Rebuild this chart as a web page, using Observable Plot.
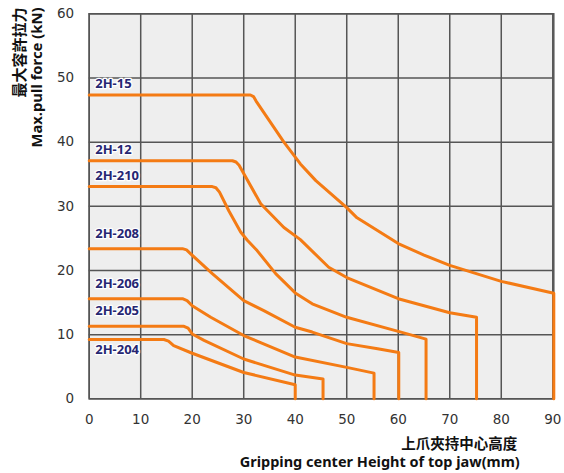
<!DOCTYPE html>
<html>
<head>
<meta charset="utf-8">
<script src="https://cdn.jsdelivr.net/npm/d3@7"></script>
<script src="https://cdn.jsdelivr.net/npm/@observablehq/plot@0.6"></script>
<style>
  html, body { margin: 0; padding: 0; background: #fff; }
</style>
</head>
<body>
<div id="chart"></div>
<script>
// ---- data ----
const seriesNames = ["2H-15", "2H-12", "2H-210", "2H-208", "2H-206", "2H-205", "2H-204"];

const s2H15  = [[0,47.35],[31.3,47.35],[31.9,47.1],[32.4,46.4],[37.8,40],[41,36.6],[44,34],[50,29.8],[52,28.2],[60,24.2],[65,22.4],[70,20.8],[80,18.3],[90.2,16.45],[90.2,0]];
const s2H12  = [[0,37.1],[27.8,37.1],[28.5,36.9],[29.1,36.4],[33.3,30.4],[37.8,26.7],[41,24.8],[46.5,20.5],[50,18.9],[60,15.6],[70,13.4],[75.2,12.7],[75.2,0]];
const s2H210 = [[0,33.07],[23.9,33.07],[24.6,32.9],[25.3,32.2],[27.1,29.3],[29.4,26],[30.7,24.7],[32.6,23.1],[36.2,19.5],[40,16.5],[43.3,14.8],[50,12.7],[60,10.5],[65.4,9.3],[65.4,0]];
const s2H208 = [[0,23.4],[18.1,23.4],[18.9,23.2],[19.7,22.6],[23.9,19.5],[30,15.3],[33.9,13.75],[40,11.15],[43.3,10.4],[50,8.6],[56,7.8],[60.1,7.2],[60.1,0]];
const s2H206 = [[0,15.6],[18.1,15.6],[19,15.3],[20,14.5],[23.6,12.7],[30,9.86],[40,6.5],[50,4.9],[55.3,4.0],[55.3,0]];
const s2H205 = [[0,11.3],[18.4,11.3],[19.2,11.0],[20,10.1],[22.3,9.1],[30,6.2],[40,3.7],[45.4,3.1],[45.4,0]];
const s2H204 = [[0,9.24],[14.5,9.24],[15.4,9.0],[16.4,8.3],[20,7.1],[30,4.1],[40,2.2],[40,0]];

const seriesPoints = [s2H15, s2H12, s2H210, s2H208, s2H206, s2H205, s2H204];

const xTicks = [0, 10, 20, 30, 40, 50, 60, 70, 80, 90];
const yTicks = [0, 10, 20, 30, 40, 50, 60];

const yTitleZh = "最大容許拉力";
const yTitleEn = "Max.pull force (kN)";
const xTitleZh = "上爪夾持中心高度";
const xTitleEn = "Gripping center Height of top jaw(mm)";

// ---- build table ----
const table = [];
seriesNames.forEach((name, i) => {
  seriesPoints[i].forEach(([x, y]) => table.push({series: name, x, y}));
});
const labelRows = seriesNames.map((name, i) => ({series: name, x: 0, y: seriesPoints[i][0][1]}));
const groupA = labelRows.filter(d => ["2H-15", "2H-12", "2H-210"].includes(d.series));
const groupB = labelRows.filter(d => ["2H-208", "2H-206", "2H-205"].includes(d.series));
const groupC = labelRows.filter(d => d.series === "2H-204");

const orange = "#f47b14";
const navy = "#262672";
const gridColor = "#555555";
const labelStyle = {
  x: "x", y: "y", text: "series", textAnchor: "start", dx: 6,
  fill: navy, fontWeight: "bold", fontSize: 13, fontFamily: "Noto Sans",
  stroke: "white", strokeWidth: 2.5
};

const chart = Plot.plot({
  width: 564,
  height: 473,
  marginTop: 13.3,
  marginLeft: 88.7,
  marginRight: 10.7,
  marginBottom: 74.7,
  style: {background: "white", fontFamily: "DejaVu Sans", fontSize: "13.5px"},
  x: {domain: [0, 90.2], label: null},
  y: {domain: [0, 60], label: null},
  marks: [
    Plot.frame({fill: "#eeeeee", stroke: null}),
    Plot.gridX(xTicks, {stroke: gridColor, strokeOpacity: 1, strokeWidth: 1.5}),
    Plot.gridY(yTicks, {stroke: gridColor, strokeOpacity: 1, strokeWidth: 1.5}),
    Plot.frame({stroke: gridColor, strokeWidth: 1.5}),
    Plot.axisX(xTicks, {tickSize: 0, tickPadding: 16, fill: "#333", fontSize: 13.5, fontFamily: "DejaVu Sans", label: null}),
    Plot.axisY(yTicks, {tickSize: 0, tickPadding: 15, fill: "#333", fontSize: 13.5, fontFamily: "DejaVu Sans", label: null}),
    Plot.line(table, {x: "x", y: "y", z: "series", stroke: orange, strokeWidth: 3, strokeLinejoin: "round"}),
    Plot.text(groupA, {...labelStyle, dy: -11}),
    Plot.text(groupB, {...labelStyle, dy: -15}),
    Plot.text(groupC, {...labelStyle, dy: 10}),
    Plot.text([yTitleZh], {text: d => d, frameAnchor: "top-left", rotate: -90, textAnchor: "end", lineAnchor: "middle",
      dx: 19.5 - 88.7, dy: 7 - 13.3, fontFamily: "Noto Sans CJK TC", fontWeight: "bold", fontSize: 15, fill: "#111"}),
    Plot.text([yTitleEn], {text: d => d, frameAnchor: "top-left", rotate: -90, textAnchor: "end", lineAnchor: "middle",
      dx: 37 - 88.7, dy: 7 - 13.3, fontFamily: "Noto Sans", fontWeight: "bold", fontSize: 14.8, fill: "#111"}),
    Plot.text([xTitleZh], {text: d => d, frameAnchor: "bottom-right", textAnchor: "end", lineAnchor: "middle",
      dx: -36.6, dy: 45.5, fontFamily: "Noto Sans CJK TC", fontWeight: "bold", fontSize: 14.5, fill: "#111"}),
    Plot.text([xTitleEn], {text: d => d, frameAnchor: "bottom-right", textAnchor: "end", lineAnchor: "middle",
      dx: -34, dy: 64, fontFamily: "Noto Sans", fontWeight: "bold", fontSize: 14.5, fill: "#111"})
  ]
});
document.getElementById("chart").appendChild(chart);
</script>
</body>
</html>
